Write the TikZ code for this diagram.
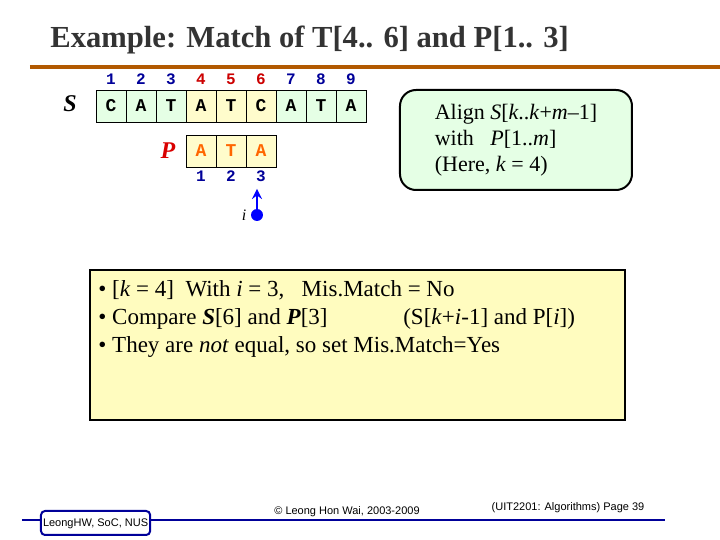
\documentclass[tikz,border=0pt]{standalone}
\usepackage{fontspec}
\setmainfont{Liberation Serif}
\newfontfamily\cour{Liberation Mono}
\newfontfamily\arial{Liberation Sans}
\begin{document}
\begin{tikzpicture}[x=0.5pt,y=-0.5pt,
  cellg/.style={draw=black,fill=green!10,minimum width=15pt,minimum height=16pt,inner sep=0pt,font=\cour\bfseries\fontsize{9}{9}\selectfont},
  celly/.style={cellg,fill=yellow!20},
  num/.style={text=blue!60!black,font=\cour\bfseries\fontsize{8}{8}\selectfont},
  numr/.style={text=red!80!black,font=\cour\bfseries\fontsize{8}{8}\selectfont},
  txt/.style={anchor=west,font=\fontsize{11.5}{13}\selectfont,inner sep=0pt}]
\useasboundingbox (0,0) rectangle (720,540);
\node[anchor=west,inner sep=0pt,font=\bfseries\fontsize{15.3}{15}\selectfont,text=black!80] (title) at (50,40) {Example: Match of T[4.. 6] and P[1.. 3]};
\draw[orange!70!black,line width=2pt] (30,67) -- (720,67);
\node[font=\bfseries\itshape\fontsize{12}{12}\selectfont] (S) at (70,104) {S};
\foreach \c/\s [count=\k] in {C/cellg,A/cellg,T/cellg,A/celly,T/celly,C/celly,A/cellg,T/cellg,A/cellg}{
  \node[\s] (s\k) at (81+30*\k,106) {\c};
}
\foreach \k in {1,2,3,7,8,9}{\node[num] at (81+30*\k,79) {\k};}
\foreach \k in {4,5,6}{\node[numr] at (81+30*\k,79) {\k};}
\node[font=\bfseries\itshape\fontsize{12}{12}\selectfont,text=red!85!black] (P) at (168,151) {P};
\foreach \c [count=\k] in {A,T,A}{
  \node[celly,text=orange!80!red] (p\k) at (171+30*\k,151) {\c};
  \node[num] (pn\k) at (171+30*\k,176) {\k};
}
\fill[blue] (257,215) circle (6);
\coordinate (dot) at (257,215);
\draw[blue,line width=1.2pt,-stealth] (dot) -- (257,189);
\node[font=\itshape\fontsize{8}{8}\selectfont] (i) at (244,215) {i};
\node[draw=black,line width=1pt,fill=green!10,rounded corners=8pt,minimum width=116pt,minimum height=50pt,align=left,font=\fontsize{11}{13}\selectfont] (align) at (516,140)
  {Align \textit{S}[\textit{k}..\textit{k}+\textit{m}--1]\\with \enspace\textit{P}[1..\textit{m}]\\(Here, \textit{k} = 4)};
\draw[black,line width=1pt,fill=yellow!25] (90,270) rectangle (625,420);
\node[txt] (l1) at (98,290) {• [\textit{k} = 4] \ With \textit{i} = 3, \ \ Mis.Match = No};
\node[txt] (l2) at (98,319) {• Compare \textbf{\textit{S}}[6] and \textbf{\textit{P}}[3] \hspace{35pt}(S[\textit{k}+\textit{i}-1] and P[\textit{i}])};
\node[txt] (l3) at (98,347) {• They are \textit{not} equal, so set Mis.Match=Yes};
\draw[blue!60!black,line width=1pt] (22,520) -- (665,520);
\node[draw=blue!60!black,line width=1pt,fill=white,rounded corners=2pt,minimum width=51pt,minimum height=12pt,font=\arial\fontsize{5.5}{6}\selectfont,anchor=north west,inner sep=1pt,text depth=-3pt] (foot) at (40,510) {LeongHW, SoC, NUS};
\node[font=\arial\fontsize{5.5}{6}\selectfont] (copy) at (347,512) {© Leong Hon Wai, 2003-2009};
\node[font=\arial\fontsize{5.5}{6}\selectfont] (page) at (568,508) {(UIT2201: Algorithms) Page 39};
\end{tikzpicture}
\end{document}
